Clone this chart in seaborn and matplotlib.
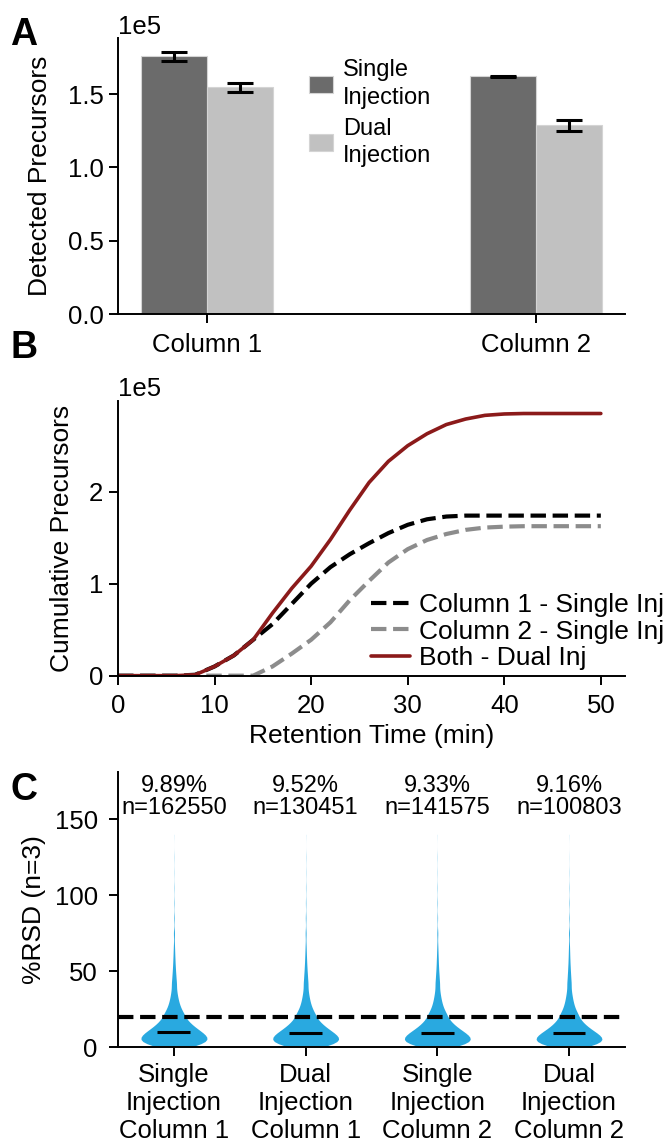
import numpy as np
import pandas as pd
import matplotlib
matplotlib.use("Agg")
import matplotlib.pyplot as plt
import seaborn as sns

# ---------------- Panel A: detected precursors (mean and sd of 3 runs) ----------------
columns = ["Column 1", "Column 2"]
injections = ["Single\nInjection", "Dual\nInjection"]
single_mean = [175600, 162000]
single_sd = [3200, 500]
dual_mean = [154700, 128600]
dual_sd = [3100, 3600]

# ---------------- Panel B: cumulative precursors along the gradient ----------------
rt_min = [0, 2, 4, 6, 8, 10, 12, 14, 16, 18, 20, 22, 24, 26, 28, 30,
          32, 34, 36, 38, 40, 42, 44, 46, 48, 50]
cum_col1_single = [0, 0, 0, 0, 1000, 10000, 22000, 39000, 56000, 78000, 100000,
                   118000, 132000, 144000, 155000, 164000, 170000, 173000, 174000,
                   174000, 174000, 174000, 174000, 174000, 174000, 174000]
cum_col2_single = [0, 0, 0, 0, 0, 0, 0, 0, 10000, 24000, 39000, 58000, 82000,
                   103000, 123000, 137500, 147500, 154000, 158500, 161000, 162000,
                   162500, 162500, 162500, 162500, 162500]
cum_both_dual = [0, 0, 0, 0, 1000, 10000, 22000, 39000, 68000, 95000, 119000,
                 148000, 180000, 210000, 233000, 250000, 263000, 273000, 279000,
                 283000, 284500, 285000, 285000, 285000, 285000, 285000]

# ---------------- Panel C: %RSD distributions ----------------
rsd_groups = ["Single\nInjection\nColumn 1", "Dual\nInjection\nColumn 1",
              "Single\nInjection\nColumn 2", "Dual\nInjection\nColumn 2"]
rsd_median = [9.89, 9.52, 9.33, 9.16]
rsd_n = [162550, 130451, 141575, 100803]
# histogram of %RSD values (bin centres and relative frequencies)
rsd_bin_centers = [1, 3, 5, 7, 9, 11, 13, 15, 17, 19,
                   22, 26, 30, 34, 38,
                   42.5, 47.5, 52.5, 57.5, 62.5, 67.5,
                   75, 85, 95, 105, 115, 125, 140]
rsd_freq_single_c1 = [165, 195, 205, 194, 176, 145, 120, 100, 83, 70,
                      110, 76, 54, 40, 30,
                      35, 27, 20, 15, 11, 8,
                      10, 6, 4, 3, 2, 2, 1]
rsd_freq_dual_c1 = [170, 200, 208, 195, 174, 142, 117, 97, 80, 67,
                    105, 72, 51, 38, 28,
                    33, 26, 19, 14, 10, 7,
                    9, 6, 4, 3, 2, 2, 1]
rsd_freq_single_c2 = [172, 202, 210, 196, 174, 141, 115, 95, 78, 66,
                      103, 70, 50, 37, 27,
                      32, 25, 18, 14, 10, 7,
                      9, 5, 4, 3, 2, 2, 1]
rsd_freq_dual_c2 = [175, 205, 212, 197, 173, 139, 113, 93, 77, 64,
                    100, 68, 49, 36, 26,
                    31, 24, 18, 13, 10, 7,
                    9, 5, 4, 3, 2, 1, 1]
rsd_freqs = [rsd_freq_single_c1, rsd_freq_dual_c1, rsd_freq_single_c2, rsd_freq_dual_c2]

# ---------------- style ----------------
sns.set_theme(style="ticks", rc={
    "axes.edgecolor": "black", "axes.linewidth": 1.4,
    "xtick.color": "black", "ytick.color": "black",
    "xtick.major.width": 1.4, "ytick.major.width": 1.4,
    "xtick.major.size": 6.5, "ytick.major.size": 6.5,
    "xtick.major.pad": 7, "ytick.major.pad": 4,
    "axes.labelcolor": "black", "text.color": "black",
})
plt.rcParams["font.family"] = ["Liberation Sans", "DejaVu Sans"]

TICK_FS = 18.5
LABEL_FS = 19
DARK = "#6b6b6b"
LIGHT = "#c1c1c1"
RED = "#8b1a1a"
GRAY = "#8c8c8c"
BLUE = "#29a9e0"

fig = plt.figure(figsize=(6.68, 11.45), dpi=100)
axA = fig.add_axes([0.1766, 0.7255, 0.759, 0.2411])
axB = fig.add_axes([0.1766, 0.4099, 0.759, 0.2402])
axC = fig.add_axes([0.1766, 0.0853, 0.759, 0.2405])

# ---------------- A ----------------
df_a = pd.DataFrame({
    "column": columns * 2,
    "injection": [injections[0]] * 2 + [injections[1]] * 2,
    "precursors": single_mean + dual_mean,
    "sd": single_sd + dual_sd,
})
sns.barplot(data=df_a, x="column", y="precursors", hue="injection",
            hue_order=injections, palette=[DARK, LIGHT], width=0.4,
            errorbar=None, saturation=1, edgecolor="#d4d4d4", linewidth=0.8,
            ax=axA)
bar_x = [i + (j - 0.5) * 0.2 for j in range(2) for i in range(2)]
axA.errorbar(bar_x, df_a["precursors"], yerr=df_a["sd"], fmt="none",
             ecolor="black", elinewidth=2.2, capsize=9.6, capthick=2.2, zorder=5)
handles, labels = axA.get_legend_handles_labels()
if axA.get_legend() is not None:
    axA.get_legend().remove()
legA = axA.legend(handles, labels, loc="upper left", bbox_to_anchor=(0.377, 0.923),
                  frameon=False, fontsize=17, handlelength=1.02, handleheight=0.71,
                  handletextpad=0.42, labelspacing=0.4, borderpad=0, borderaxespad=0)
for t in legA.get_texts():
    t.set_linespacing(1.3)
axA.set_xlim(-0.27, 1.27)
axA.set_ylim(0, 188000)
axA.set_yticks([0, 50000, 100000, 150000])
axA.ticklabel_format(axis="y", style="sci", scilimits=(0, 0))
axA.set_xlabel("")
axA.set_ylabel("Detected Precursors", fontsize=LABEL_FS, labelpad=11)

# ---------------- B ----------------
sns.lineplot(x=rt_min, y=cum_col1_single, color="black", linestyle="--", lw=3,
             label="Column 1 - Single Inj", ax=axB)
sns.lineplot(x=rt_min, y=cum_col2_single, color=GRAY, linestyle="--", lw=3,
             label="Column 2 - Single Inj", ax=axB)
sns.lineplot(x=rt_min, y=cum_both_dual, color=RED, lw=2.6,
             label="Both - Dual Inj", ax=axB)
axB.legend(loc="lower left", bbox_to_anchor=(0.5, 0.02), frameon=False,
           fontsize=LABEL_FS, handlelength=1.45, handletextpad=0.35,
           labelspacing=0.1, borderpad=0, borderaxespad=0)
axB.set_xlim(0, 52.5)
axB.set_ylim(0, 299000)
axB.set_xticks([0, 10, 20, 30, 40, 50])
axB.set_yticks([0, 100000, 200000])
axB.ticklabel_format(axis="y", style="sci", scilimits=(0, 0))
axB.set_xlabel("Retention Time (min)", fontsize=LABEL_FS)
axB.set_ylabel("Cumulative Precursors", fontsize=LABEL_FS, labelpad=11)

# ---------------- C ----------------
df_c = pd.concat([
    pd.DataFrame({"group": g, "rsd": np.repeat(rsd_bin_centers, f)})
    for g, f in zip(rsd_groups, rsd_freqs)
], ignore_index=True)
sns.violinplot(data=df_c, x="group", y="rsd", order=rsd_groups, color=BLUE,
               saturation=1, width=0.5, cut=0, inner=None, linewidth=0,
               density_norm="width", bw_adjust=0.8, ax=axC)
for i, med in enumerate(rsd_median):
    axC.hlines(med, i - 0.125, i + 0.125, color="black", lw=2.2, zorder=4)
    axC.text(i, 150, f"{med:.2f}%\nn={rsd_n[i]}", ha="center", va="bottom",
             fontsize=17, linespacing=1.03)
axC.axhline(20, color="black", linestyle="--", lw=3, zorder=5)
axC.set_xlim(-0.425, 3.425)
axC.set_ylim(0, 181)
axC.set_yticks([0, 50, 100, 150])
axC.set_xticks(range(len(rsd_groups)))
axC.set_xticklabels(rsd_groups, linespacing=1.2)
axC.set_xlabel("")
axC.set_ylabel("%RSD (n=3)", fontsize=LABEL_FS, labelpad=6.5)
axC.tick_params(axis="y", pad=8)
axC.tick_params(axis="x", pad=5)

for ax in (axA, axB, axC):
    sns.despine(ax=ax)
    ax.tick_params(labelsize=TICK_FS)
    ax.yaxis.get_offset_text().set_fontsize(TICK_FS)

# panel letters
for letter, y in (("A", 0.9607), ("B", 0.6873), ("C", 0.3013)):
    fig.text(0.015, y, letter, fontsize=27, fontweight="bold",
             ha="left", va="baseline")

fig.savefig("out.png", dpi=100)
